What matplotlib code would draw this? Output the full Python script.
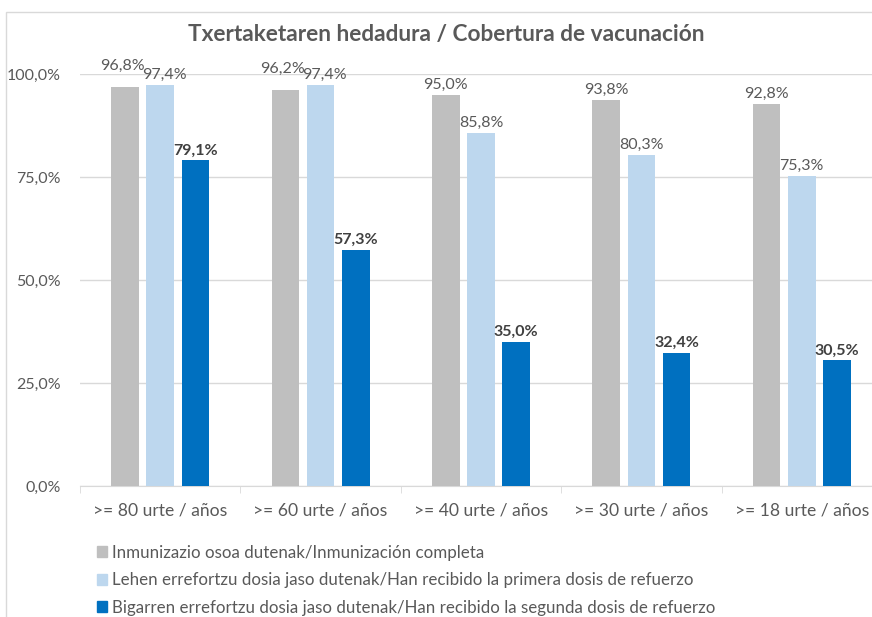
import matplotlib
matplotlib.use("Agg")
import matplotlib.pyplot as plt
import numpy as np
from matplotlib.patches import Rectangle

plt.rcParams['font.family'] = ['Lato', 'DejaVu Sans']

categories = [">= 80 urte / años", ">= 60 urte / años", ">= 40 urte / años",
              ">= 30 urte / años", ">= 18 urte / años"]
series_names = ["Inmunizazio osoa dutenak/Inmunización completa",
                "Lehen errefortzu dosia jaso dutenak/Han recibido la primera dosis de refuerzo",
                "Bigarren errefortzu dosia jaso dutenak/Han recibido la segunda dosis de refuerzo"]
completa = [96.8, 96.2, 95.0, 93.8, 92.8]
primera = [97.4, 97.4, 85.8, 80.3, 75.3]
segunda = [79.1, 57.3, 35.0, 32.4, 30.5]
series = [completa, primera, segunda]
colors = ["#BFBFBF", "#BDD7EE", "#0070C0"]
yticks = [0, 25, 50, 75, 100]
title = "Txertaketaren hedadura / Cobertura de vacunación"

W, H = 872, 617
fig = plt.figure(figsize=(W / 100, H / 100), dpi=100)

# chart border
fig.patches.append(Rectangle((6 / W, -0.1), 1.2, 1 - 12 / H + 0.1, transform=fig.transFigure,
                             fill=False, edgecolor="#D9D9D9", linewidth=1.0))

ax = fig.add_axes([80 / W, (H - 486) / H, 802 / W, 412 / H])
x = np.arange(len(categories))
bw = 0.172
step = 0.22
text_col = "#595959"
for i, (vals, c) in enumerate(zip(series, colors)):
    pos = x + (i - 1) * step
    bars = ax.bar(pos, vals, width=bw, color=c, zorder=3)
    for j, (b, v) in enumerate(zip(bars, vals)):
        lab = f"{v:.1f}%".replace(".", ",")
        extra = 0
        dx = 0
        if i == 0 and v > 96:
            extra = 8
            dx = -2
        if i == 1 and v > 97:
            dx = 3
        ax.annotate(lab, (b.get_x() + b.get_width() / 2, v), xytext=(dx, 2 + extra),
                    textcoords="offset points", ha="center", va="bottom",
                    fontsize=11.5, color="#404040" if i == 2 else text_col,
                    fontweight="bold" if i == 2 else "normal", zorder=4)

ax.set_xlim(-0.5, len(categories) - 0.5)
ax.set_ylim(0, 100)
ax.set_yticks(yticks)
ax.set_yticklabels([f"{t:.1f}%".replace(".", ",") for t in yticks])
ax.set_xticks(x)
ax.set_xticklabels(categories)
ax.set_xticks(np.arange(len(categories) + 1) - 0.5, minor=True)
ax.tick_params(axis="x", which="major", length=0, pad=12, labelsize=12.6, labelcolor=text_col)
ax.tick_params(axis="x", which="minor", length=5, color="#D9D9D9", direction="out")
ax.tick_params(axis="y", length=0, pad=14, labelsize=11.5, labelcolor=text_col)
ax.grid(axis="y", color="#D9D9D9", linewidth=1, zorder=0)
for s in ["top", "right", "left"]:
    ax.spines[s].set_visible(False)
ax.spines["bottom"].set_color("#D9D9D9")
ax.set_axisbelow(True)

fig.text(446 / W, 1 - 35 / H, title, ha="center", va="center", fontsize=16.3,
         fontweight="bold", color=text_col)

handles = [Rectangle((0, 0), 1, 1, color=c) for c in colors]
fig.legend(handles, series_names, loc="upper left", bbox_to_anchor=(90 / W, 1 - 538 / H),
           frameon=False, handlelength=0.6, handleheight=0.6, handletextpad=0.3,
           labelspacing=0.68, fontsize=12.2, labelcolor=text_col, borderaxespad=0)

fig.savefig("out.png", dpi=100)
